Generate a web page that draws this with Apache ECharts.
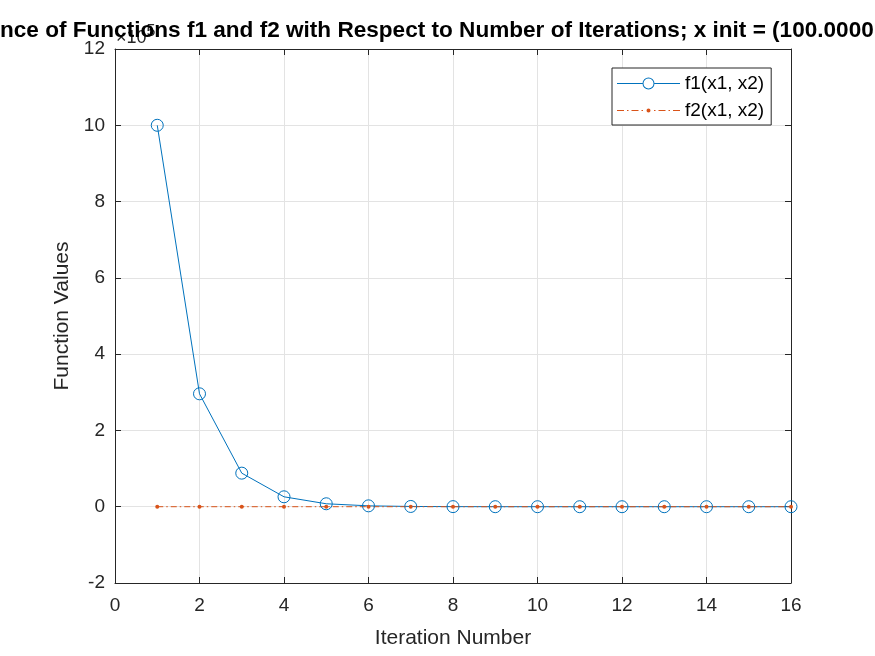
<!DOCTYPE html>
<html>
<head>
<meta charset="utf-8">
<script src="https://cdn.jsdelivr.net/npm/echarts@6/dist/echarts.min.js"></script>
<style>
  html, body { margin: 0; padding: 0; background: #fff; }
  #main { width: 875px; height: 656px; }
</style>
</head>
<body>
<div id="main"></div>
<script>
var iterations = [1, 2, 3, 4, 5, 6, 7, 8, 9, 10, 11, 12, 13, 14, 15, 16];
var f1Values = [1000000, 296000, 88000, 26000, 7700, 2300, 680, 200, 60, 18, 5, 1.6, 0.5, 0.14, 0.04, 0.01];
var f2Values = [0, 0, 0, 0, 0, 0, 0, 0, 0, 0, 0, 0, 0, 0, 0, 0];
var titleText = 'Convergence of Functions f1 and f2 with Respect to Number of Iterations; x init = (100.0000, 100.0000)';

var font = '"Liberation Sans", Arial, Helvetica, sans-serif';
var axisColor = '#262626';
var blue = '#0072BD';
var orange = '#D95319';

var myChart = echarts.init(document.getElementById('main'));

function pairs(ys) {
    return iterations.map(function (x, i) { return [x, ys[i]]; });
}

// the title is wider than the window and gets clipped at both sides:
// fit "nce of ... (100.0000" to the visible width
var ctx = document.createElement('canvas').getContext('2d');
ctx.font = 'bold 20px ' + font;
var cut = ctx.measureText('Converge').width;
var seen = ctx.measureText('Convergence of Functions f1 and f2 with Respect to Number of Iterations; x init = (100.0000').width - cut;
var titleSize = 20 * 874 / seen;
var titleLeft = -cut * titleSize / 20;

// legend icons drawn as paths in a 63 x 12 box
var f1Icon = 'path://M0,5.5h25.5v1h-25.5z M37.5,5.5h25.5v1h-25.5z ' +
    'M25.5,6a6,6 0 1,0 12,0a6,6 0 1,0 -12,0z M26.5,6a5,5 0 1,1 10,0a5,5 0 1,1 -10,0z ' +
    'M0,0h0.01v0.01h-0.01z M62.99,11.99h0.01v0.01h-0.01z';
var f2Icon = 'path://' +
    'M0,5.5h7v1h-7z M10,5.5h1.5v1h-1.5z M14.5,5.5h7v1h-7z M24.5,5.5h1.5v1h-1.5z ' +
    'M29.5,6a2,2 0 1,0 4,0a2,2 0 1,0 -4,0z ' +
    'M37,5.5h1.5v1h-1.5z M41.5,5.5h7v1h-7z M51.5,5.5h1.5v1h-1.5z M56,5.5h7v1h-7z ' +
    'M0,0h0.01v0.01h-0.01z M62.99,11.99h0.01v0.01h-0.01z';

var option = {
    animation: false,
    backgroundColor: '#fff',
    textStyle: { fontFamily: font },
    grid: { left: 115, right: 84, top: 49, bottom: 73, containLabel: false },
    graphic: [
        {
            type: 'text',
            left: 116,
            top: 24,
            z: 1,
            style: {
                text: '×10{s|5}',
                font: '18px ' + font,
                fill: axisColor,
                rich: { s: { fontSize: 16, fontFamily: font, verticalAlign: 'top', padding: [0, 0, 12, 0] } }
            }
        },
        {
            type: 'text',
            left: titleLeft,
            top: 19,
            z: 10,
            style: {
                text: titleText,
                font: 'bold ' + titleSize + 'px ' + font,
                fill: '#000'
            }
        }
    ],
    legend: {
        orient: 'vertical',
        left: 612,
        top: 68,
        padding: [6, 7, 5, 5],
        itemGap: 8,
        itemWidth: 63,
        itemHeight: 12,
        symbolKeepAspect: true,
        borderColor: axisColor,
        borderWidth: 1,
        borderRadius: 0,
        backgroundColor: '#fff',
        textStyle: { fontSize: 19, color: '#000', fontFamily: font },
        data: [
            { name: 'f1(x1, x2)', icon: f1Icon, itemStyle: { color: blue, borderWidth: 0 } },
            { name: 'f2(x1, x2)', icon: f2Icon, itemStyle: { color: orange, borderWidth: 0 } }
        ]
    },
    xAxis: [
        {
            type: 'value',
            min: 0,
            max: 16,
            interval: 2,
            name: 'Iteration Number',
            nameLocation: 'middle',
            nameGap: 45,
            nameTextStyle: { fontSize: 21, color: axisColor, fontFamily: font },
            axisLine: { show: true, onZero: false, lineStyle: { color: axisColor, width: 1 } },
            axisTick: { show: true, inside: true, length: 6, lineStyle: { color: axisColor } },
            axisLabel: { fontSize: 19, color: axisColor, margin: 13, fontFamily: font },
            splitLine: { show: true, lineStyle: { color: '#e3e3e3', width: 1 } }
        },
        {
            type: 'value',
            position: 'top',
            min: 0,
            max: 16,
            interval: 2,
            axisLine: { show: true, onZero: false, lineStyle: { color: axisColor, width: 1 } },
            axisTick: { show: true, inside: true, length: 6, lineStyle: { color: axisColor } },
            axisLabel: { show: false },
            splitLine: { show: false }
        }
    ],
    yAxis: [
        {
            type: 'value',
            min: -200000,
            max: 1200000,
            interval: 200000,
            name: 'Function Values',
            nameLocation: 'middle',
            nameGap: 42,
            nameTextStyle: { fontSize: 21, color: axisColor, fontFamily: font },
            axisLine: { show: true, onZero: false, lineStyle: { color: axisColor, width: 1 } },
            axisTick: { show: true, inside: true, length: 6, lineStyle: { color: axisColor } },
            axisLabel: {
                fontSize: 19,
                color: axisColor,
                margin: 10,
                fontFamily: font,
                formatter: function (v) { return String(Math.round(v / 100000)); }
            },
            splitLine: { show: true, lineStyle: { color: '#e3e3e3', width: 1 } }
        },
        {
            type: 'value',
            position: 'right',
            min: -200000,
            max: 1200000,
            interval: 200000,
            axisLine: { show: true, onZero: false, lineStyle: { color: axisColor, width: 1 } },
            axisTick: { show: true, inside: true, length: 6, lineStyle: { color: axisColor } },
            axisLabel: { show: false },
            splitLine: { show: false }
        }
    ],
    series: [
        {
            name: 'f1(x1, x2)',
            type: 'line',
            xAxisIndex: 0,
            yAxisIndex: 0,
            data: pairs(f1Values),
            symbol: 'circle',
            symbolSize: 12,
            color: blue,
            lineStyle: { color: blue, width: 1 },
            itemStyle: { color: 'rgba(0,0,0,0)', borderColor: blue, borderWidth: 1 }
        },
        {
            name: 'f2(x1, x2)',
            type: 'line',
            xAxisIndex: 0,
            yAxisIndex: 0,
            data: pairs(f2Values),
            symbol: 'circle',
            symbolSize: 4,
            color: orange,
            lineStyle: { color: orange, width: 1, type: [6, 3, 1.5, 3] },
            itemStyle: { color: orange }
        }
    ]
};
myChart.setOption(option);
</script>
</body>
</html>
